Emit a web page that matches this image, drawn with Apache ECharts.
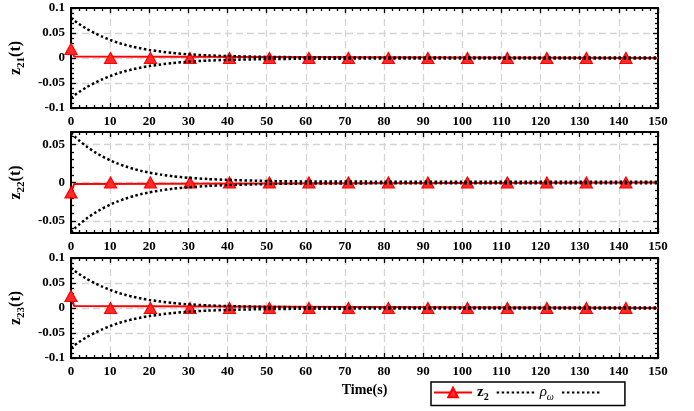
<!DOCTYPE html>
<html>
<head>
<meta charset="utf-8">
<script src="https://cdn.jsdelivr.net/npm/echarts@6/dist/echarts.min.js"></script>
<style>
html, body { margin: 0; padding: 0; background: #fff; }
#main { width: 694px; height: 411px; }
</style>
</head>
<body>
<div id="main"></div>
<script>
// ---- data ----
var tBound = [0, 1, 2, 4, 6, 8, 10, 12, 14, 16, 18, 20, 23, 26, 30, 35, 40, 50, 60, 80, 100, 150];
var rho1Up = [0.080, 0.0739, 0.0683, 0.0584, 0.0499, 0.0427, 0.0362, 0.0306, 0.0261, 0.0222, 0.0189, 0.0162, 0.0128, 0.0102, 0.0074, 0.0052, 0.0038, 0.0022, 0.0015, 0.0011, 0.001, 0.001];
var rho1Lo = [-0.080, -0.0739, -0.0683, -0.0584, -0.0499, -0.0427, -0.0362, -0.0306, -0.0261, -0.0222, -0.0189, -0.0162, -0.0128, -0.0102, -0.0074, -0.0052, -0.0038, -0.0022, -0.0015, -0.0011, -0.001, -0.001];
var rho2Up = [0.065, 0.0598, 0.0553, 0.0470, 0.0400, 0.0340, 0.0290, 0.0246, 0.0209, 0.0178, 0.0151, 0.0129, 0.0103, 0.0082, 0.0062, 0.0045, 0.0034, 0.0020, 0.0014, 0.0011, 0.001, 0.001];
var rho2Lo = [-0.065, -0.0598, -0.0553, -0.0470, -0.0400, -0.0340, -0.0290, -0.0246, -0.0209, -0.0178, -0.0151, -0.0129, -0.0103, -0.0082, -0.0062, -0.0045, -0.0034, -0.0020, -0.0014, -0.0011, -0.001, -0.001];
var rho3Up = [0.080, 0.0739, 0.0683, 0.0584, 0.0499, 0.0427, 0.0362, 0.0306, 0.0261, 0.0222, 0.0189, 0.0162, 0.0128, 0.0102, 0.0074, 0.0052, 0.0038, 0.0022, 0.0015, 0.0011, 0.001, 0.001];
var rho3Lo = [-0.080, -0.0739, -0.0683, -0.0584, -0.0499, -0.0427, -0.0362, -0.0306, -0.0261, -0.0222, -0.0189, -0.0162, -0.0128, -0.0102, -0.0074, -0.0052, -0.0038, -0.0022, -0.0015, -0.0011, -0.001, -0.001];

// z trajectories: quick drop to zero, then flat
var tZ = [0, 0.4, 0.8, 1.2, 150];
var z21 = [0.018, 0.011, 0.003, 0, 0];
var z22 = [-0.013, -0.008, -0.002, 0, 0];
var z23 = [0.024, 0.014, 0.004, 0, 0];
// triangle markers
var tMarks = [0, 10.1, 20.3, 30.4, 40.5, 50.7, 60.8, 70.9, 81.1, 91.2, 101.3, 111.5, 121.6, 131.7, 141.8];
var m21 = [0.018, 0, 0, 0, 0, 0, 0, 0, 0, 0, 0, 0, 0, 0, 0];
var m22 = [-0.013, 0, 0, 0, 0, 0, 0, 0, 0, 0, 0, 0, 0, 0, 0];
var m23 = [0.024, 0, 0, 0, 0, 0, 0, 0, 0, 0, 0, 0, 0, 0, 0];

var yLabels1 = [-0.1, -0.05, 0, 0.05, 0.1];
var yLabels2 = [-0.05, 0, 0.05];
var yMinor1 = [-0.09, -0.08, -0.07, -0.06, -0.04, -0.03, -0.02, -0.01, 0.01, 0.02, 0.03, 0.04, 0.06, 0.07, 0.08, 0.09];
var yMinor2 = [-0.06, -0.04, -0.03, -0.02, -0.01, 0.01, 0.02, 0.03, 0.04, 0.06];
var yRange = [[-0.1, 0.1], [-0.066, 0.066], [-0.1, 0.1]];
var yNames = ['21', '22', '23'];

// ---- chart ----
var FONT = 'Liberation Serif';
var grids = [
    { left: 70, right: 36, top: 8, height: 100 },
    { left: 70, right: 36, top: 132, height: 101 },
    { left: 70, right: 36, top: 258, height: 100 }
];

function pairs(ts, vs) {
    return ts.map(function (t, i) { return [t, vs[i]]; });
}

var xAxes = [], yAxes = [], series = [];
var tickStyle = { color: '#000', width: 1.3 };
var gridLine = { show: true, lineStyle: { color: '#d4d4d4', width: 1.3, type: [7, 4] } };

[0, 1, 2].forEach(function (g) {
    var labels = g === 1 ? yLabels2 : yLabels1;
    var minor = g === 1 ? yMinor2 : yMinor1;
    var base = {
        type: 'value', gridIndex: g, min: 0, max: 150, interval: 10,
        axisLine: { onZero: false, lineStyle: { color: '#000', width: 2 } },
        axisTick: { inside: true, length: 5, lineStyle: tickStyle },
        minorTick: { show: true, splitNumber: 5, length: 3, lineStyle: tickStyle }
    };
    xAxes.push(Object.assign({}, base, {
        position: 'bottom',
        axisLabel: { color: '#000', fontFamily: FONT, fontWeight: 'bold', fontSize: 13, margin: 7 },
        splitLine: gridLine,
        name: g === 2 ? 'Time(s)' : '',
        nameLocation: 'middle', nameGap: 25,
        nameTextStyle: { color: '#000', fontFamily: FONT, fontWeight: 'bold', fontSize: 14 }
    }));
    xAxes.push(Object.assign({}, base, {
        position: 'top', axisLabel: { show: false }, splitLine: { show: false }
    }));

    var ybase = {
        type: 'value', gridIndex: g, min: yRange[g][0], max: yRange[g][1],
        axisLine: { onZero: false, lineStyle: { color: '#000', width: 2 } },
        axisTick: { inside: true, length: 5, lineStyle: tickStyle, customValues: labels },
        axisLabel: { show: false, customValues: labels },
        splitLine: { show: false }
    };
    yAxes.push(Object.assign({}, ybase, {
        position: 'left',
        axisLabel: { show: true, customValues: labels, color: '#000', fontFamily: FONT, fontWeight: 'bold', fontSize: 13, margin: 6 },
        splitLine: gridLine,
        name: '{m|z}{s|' + yNames[g] + '}{m|(t)}',
        nameLocation: 'middle', nameGap: 36,
        nameTextStyle: {
            color: '#000', fontFamily: FONT, fontWeight: 'bold',
            rich: {
                m: { fontFamily: FONT, fontWeight: 'bold', fontSize: 16, lineHeight: 22, verticalAlign: 'middle' },
                s: { fontFamily: FONT, fontWeight: 'bold', fontSize: 11, lineHeight: 12, verticalAlign: 'bottom' }
            }
        }
    }));
    yAxes.push(Object.assign({}, ybase, { position: 'right' }));
    // minor ticks on both sides
    ['left', 'right'].forEach(function (pos) {
        yAxes.push({
            type: 'value', gridIndex: g, min: yRange[g][0], max: yRange[g][1], position: pos,
            axisLine: { show: false, onZero: false },
            axisTick: { inside: true, length: 3, lineStyle: tickStyle, customValues: minor },
            axisLabel: { show: false, customValues: minor },
            splitLine: { show: false }
        });
    });

    var zv = [z21, z22, z23][g];
    var mv = [m21, m22, m23][g];
    var up = [rho1Up, rho2Up, rho3Up][g];
    var lo = [rho1Lo, rho2Lo, rho3Lo][g];
    var dotted = { color: '#000', width: 2.5, type: [2.5, 2.5] };
    var triStyle = { color: '#ff2a2a', borderColor: '#ff0000', borderWidth: 1.2, opacity: 1 };

    series.push({
        name: 'z2', type: 'line', xAxisIndex: 2 * g, yAxisIndex: 4 * g,
        data: pairs(tZ, zv), symbol: 'triangle', symbolSize: [12, 11], showSymbol: false,
        lineStyle: { color: '#ff0000', width: 2 },
        itemStyle: triStyle, z: 3
    });
    series.push({
        name: 'z2', type: 'scatter', xAxisIndex: 2 * g, yAxisIndex: 4 * g,
        data: pairs(tMarks, mv), symbol: 'triangle', symbolSize: [12, 11],
        itemStyle: triStyle, z: 3
    });
    series.push({
        name: 'rho', type: 'line', xAxisIndex: 2 * g, yAxisIndex: 4 * g,
        data: pairs(tBound, up), symbol: 'none', smooth: 0.2,
        lineStyle: dotted, itemStyle: { color: 'rgba(0,0,0,0)', borderWidth: 0 }, z: 4
    });
    series.push({
        name: 'rhoLo', type: 'line', xAxisIndex: 2 * g, yAxisIndex: 4 * g,
        data: pairs(tBound, lo), symbol: 'none', smooth: 0.2,
        lineStyle: dotted, itemStyle: { color: 'rgba(0,0,0,0)', borderWidth: 0 }, z: 4
    });
});

var myChart = echarts.init(document.getElementById('main'));

var option = {
    animation: false,
    backgroundColor: '#fff',
    grid: grids,
    xAxis: xAxes,
    yAxis: yAxes,
    legend: {
        data: ['z2', 'rho', 'rhoLo'],
        left: 431, top: 382,
        padding: [3, 24, 3, 2],
        itemGap: 7, itemWidth: 38, itemHeight: 12,
        borderColor: '#000', borderWidth: 1.5,
        formatter: function (name) {
            if (name === 'z2') return '{z|z}{s|2}';
            if (name === 'rho') return '{r|ρ}{w|ω}';
            return '';
        },
        textStyle: {
            color: '#000', fontFamily: FONT,
            rich: {
                z: { fontFamily: FONT, fontWeight: 'bold', fontSize: 15, lineHeight: 20, verticalAlign: 'middle' },
                s: { fontFamily: FONT, fontWeight: 'bold', fontSize: 10, lineHeight: 11, verticalAlign: 'bottom' },
                r: { fontFamily: FONT, fontStyle: 'italic', fontSize: 15, lineHeight: 20, verticalAlign: 'middle' },
                w: { fontFamily: FONT, fontStyle: 'italic', fontSize: 10, lineHeight: 11, verticalAlign: 'bottom' }
            }
        }
    },
    series: series
};

myChart.setOption(option);
</script>
</body>
</html>
